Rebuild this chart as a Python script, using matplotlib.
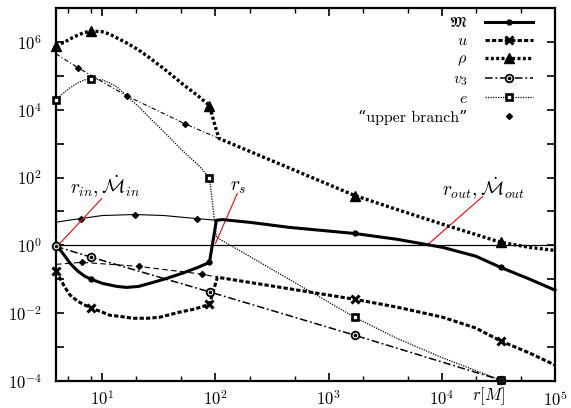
import numpy as np
import matplotlib
matplotlib.use('Agg')
import matplotlib.pyplot as plt
from matplotlib.lines import Line2D
from matplotlib.legend_handler import HandlerTuple
from matplotlib.ticker import NullLocator

plt.rcParams['mathtext.fontset'] = 'cm'
plt.rcParams['font.family'] = ['cmr10', 'DejaVu Serif']
plt.rcParams['axes.formatter.use_mathtext'] = True

# ---- data (r in units of M; values given as log10 of the plotted quantity) ----
M_r = [3.9, 4.68, 5.2, 6.08, 7.0, 8.0, 10, 13.4, 16.4, 21, 26.2, 35, 51.2, 70, 88.5,
       102, 115, 200, 450, 1700, 4000, 10200, 20000, 33100, 60000, 1e5]
M_log = [0.03, -0.32, -0.53, -0.76, -0.91, -1.0, -1.12, -1.21, -1.24, -1.21, -1.12, -1.0, -0.82, -0.65, -0.5,
         0.74, 0.76, 0.68, 0.53, 0.35, 0.18, -0.06, -0.32, -0.65, -1.0, -1.32]
M_mark_r = [3.9, 8.0, 88.5, 1700, 33100]

u_r = [3.9, 4.68, 5.2, 6.08, 7.0, 8.0, 10, 11.6, 14, 18.6, 25, 32.1, 48.2, 65, 88.5,
       104, 1700, 4000, 10200, 20000, 33100, 60000, 1e5]
u_log = [-0.76, -1.24, -1.47, -1.65, -1.76, -1.85, -1.97, -2.06, -2.09, -2.15, -2.15, -2.12, -1.97, -1.88, -1.74,
         -0.94, -1.59, -1.82, -2.12, -2.44, -2.82, -3.18, -3.53]
u_mark_r = [3.9, 8.0, 88.5, 1700, 33100]

rho_r = [3.9, 4.68, 5.2, 6.08, 7.0, 8.0, 10, 11.6, 13.4, 16.4, 21, 26.2, 35, 51.2, 70, 88.5,
         102, 108, 1700, 4000, 10200, 20000, 33100, 60000, 1e5]
rho_log = [5.88, 6.0, 6.09, 6.2, 6.28, 6.32, 6.3, 6.23, 6.12, 5.97, 5.76, 5.53, 5.21, 4.76, 4.41, 4.12,
           3.38, 3.15, 1.47, 1.06, 0.62, 0.32, 0.09, -0.06, -0.15]
rho_mark_r = [3.9, 8.0, 88.5, 1700, 33100]

v3_r = [3.9, 8.0, 90.3, 1700, 33100]
v3_log = [-0.03, -0.35, -1.38, -2.65, -3.97]
v3_mark_r = [3.9, 8.0, 90.3, 1700, 33100]

e_r = [3.9, 4.68, 5.2, 6.08, 7.0, 8.0, 10, 11.6, 13.4, 16.4, 21, 26.2, 35, 51.2, 70, 88.5,
       98, 102, 1700, 4000, 10200, 33100]
e_log = [4.29, 4.53, 4.65, 4.79, 4.88, 4.91, 4.88, 4.79, 4.68, 4.41, 4.09, 3.76, 3.35, 2.79, 2.38, 2.0,
         0.74, 0.24, -2.12, -2.74, -3.32, -3.97]
e_mark_r = [3.9, 8.0, 88.5, 1700, 33100]

# "upper branch" solutions
Mup_r = [3.9, 5.0, 6.47, 10, 19.3, 35, 68, 102]
Mup_log = [0.68, 0.74, 0.79, 0.88, 0.91, 0.88, 0.79, 0.74]
Mup_mark_r = [6.47, 19.3, 68]
uup_r = [3.9, 6.59, 21, 76.7, 104]
uup_log = [-0.56, -0.5, -0.62, -0.85, -0.94]
uup_mark_r = [6.59, 21, 76.7]
rhoup_r = [3.9, 6.08, 16.4, 53.3, 108]
rhoup_log = [5.65, 5.24, 4.41, 3.59, 3.15]
rhoup_mark_r = [6.08, 16.4, 53.3]

xtick_vals = [10, 100, 1000, 1e4, 1e5]
xtick_labels = [r'$10^{1}$', r'$10^{2}$', r'$10^{3}$', r'$10^{4}$', r'$10^{5}$']
xminor_vals = [5, 8, 20, 50, 200, 500, 2000, 5000, 2e4, 5e4]
ytick_exps = list(range(-4, 8))


def val(logs):
    return 10.0 ** np.asarray(logs)


def idx(rs, marks):
    return [rs.index(m) for m in marks]


fig = plt.figure(figsize=(5.71, 4.08), dpi=100)
ax = fig.add_axes([56 / 571, 1 - 381 / 408, (555 - 56) / 571, (381 - 8) / 408])
ax.set_xscale('log')
ax.set_yscale('log')
ax.set_xlim(3.9, 1e5)
ax.set_ylim(1e-4, 1e7)

ax.axhline(1.0, color='k', lw=0.9, zorder=1)

# upper branch thin lines
ax.plot(Mup_r, val(Mup_log), color='k', lw=0.8, marker='D', ms=3, markevery=idx(Mup_r, Mup_mark_r), zorder=2)
ax.plot(uup_r, val(uup_log), color='k', lw=0.8, dashes=(5, 3), marker='D', ms=3,
        markevery=idx(uup_r, uup_mark_r), zorder=2)
ax.plot(rhoup_r, val(rhoup_log), color='k', lw=0.8, dashes=(4, 2, 1, 2), marker='D', ms=3,
        markevery=idx(rhoup_r, rhoup_mark_r), zorder=2)

# main curves
ax.plot(M_r, val(M_log), color='k', lw=2.2, marker='o', ms=3.5, markevery=idx(M_r, M_mark_r),
        clip_on=False, zorder=4)
ax.plot(u_r, val(u_log), color='k', lw=2.2, dashes=(1.4, 0.7), marker='x', ms=5.5, mew=2.2,
        markevery=idx(u_r, u_mark_r), clip_on=False, zorder=4)
ax.plot(rho_r, val(rho_log), color='k', lw=2.4, dashes=(0.9, 0.7), marker='^', ms=7.5,
        markevery=idx(rho_r, rho_mark_r), clip_on=False, zorder=4)
ax.plot(v3_r, val(v3_log), color='k', lw=1.1, dashes=(5, 1.8, 1.2, 1.8), marker='o', ms=5.5,
        mfc='white', mec='k', mew=1.3, markevery=idx(v3_r, v3_mark_r), clip_on=False, zorder=4)
ax.plot(v3_mark_r, val(v3_log)[idx(v3_r, v3_mark_r)], ls='none', marker='o', ms=1.6,
        color='k', clip_on=False, zorder=5)
ax.plot(e_r, val(e_log), color='k', lw=0.9, dashes=(1, 1), marker='s', ms=4.8, mfc='white',
        mec='k', mew=1.9, markevery=idx(e_r, e_mark_r), clip_on=False, zorder=4)

# annotations (red pointer lines)
ax.plot([9.9, 4.23], [10 ** 1.38, 10 ** 0.06], color='red', lw=0.8, zorder=3)
ax.plot([156, 100], [10 ** 1.53, 10 ** 0.06], color='red', lw=0.8, zorder=3)
ax.plot([22960, 7380], [10 ** 1.44, 1.0], color='red', lw=0.8, zorder=3)
ax.text(10.7, 10 ** 1.72, r'$r_{in}, \dot{\mathcal{M}}_{in}$', fontsize=14, ha='center', va='center')
ax.text(160, 10 ** 1.72, r'$r_s$', fontsize=14, ha='center', va='center')
ax.text(23400, 10 ** 1.66, r'$r_{out}, \dot{\mathcal{M}}_{out}$', fontsize=14, ha='center', va='center')

# ticks
ax.set_xticks(xtick_vals)
ax.set_xticklabels(xtick_labels)
ax.set_xticks(xminor_vals, minor=True)
ax.set_xticklabels([], minor=True)
ax.set_yticks([10.0 ** k for k in ytick_exps])
ax.set_yticklabels([r'$10^{%d}$' % k if k % 2 == 0 and k < 7 else '' for k in ytick_exps])
ax.yaxis.set_minor_locator(NullLocator())
ax.tick_params(which='both', direction='in', top=True, right=True, labelsize=12)
ax.tick_params(which='major', length=6, width=1.2)
ax.tick_params(which='minor', length=3.5, width=1.0)
ax.tick_params(axis='x', which='major', pad=6)
ax.tick_params(axis='y', which='major', pad=10)
for s in ax.spines.values():
    s.set_linewidth(1.6)

ax.annotate(r'$r[M]$', xy=(2.6e4, 0), xycoords=ax.get_xaxis_transform(), xytext=(0, -3),
            textcoords='offset points', ha='center', va='top', fontsize=12)

# legend
h_M = Line2D([], [], color='k', lw=2.2, marker='o', ms=3.5)
h_u = Line2D([], [], color='k', lw=2.2, dashes=(1.4, 0.7), marker='x', ms=5.5, mew=2.2)
h_rho = Line2D([], [], color='k', lw=2.4, dashes=(0.9, 0.7), marker='^', ms=7.5)
h_v3a = Line2D([], [], color='k', lw=1.1, dashes=(5, 1.8, 1.2, 1.8), marker='o', ms=5.5, mfc='white', mew=1.3)
h_v3b = Line2D([], [], ls='none', marker='o', ms=1.6, color='k')
h_e = Line2D([], [], color='k', lw=0.9, dashes=(1, 1), marker='s', ms=4.8, mfc='white', mew=1.9)
h_up = Line2D([], [], ls='none', color='k', marker='D', ms=3)
leg = ax.legend([h_M, h_u, h_rho, (h_v3a, h_v3b), h_e, h_up],
                [r'$\mathfrak{M}$', r'$u$', r'$\rho$', r'$v_3$', r'$e$', '\u201cupper branch\u201d'],
                handler_map={tuple: HandlerTuple(ndivide=1, pad=0)},
                loc='upper right', bbox_to_anchor=(0.956, 0.978), markerfirst=False, frameon=False,
                fontsize=11.5, handlelength=3.0, handletextpad=1.1, labelspacing=0.24,
                borderpad=0, borderaxespad=0, numpoints=1)

fig.savefig('out.png', dpi=100)
